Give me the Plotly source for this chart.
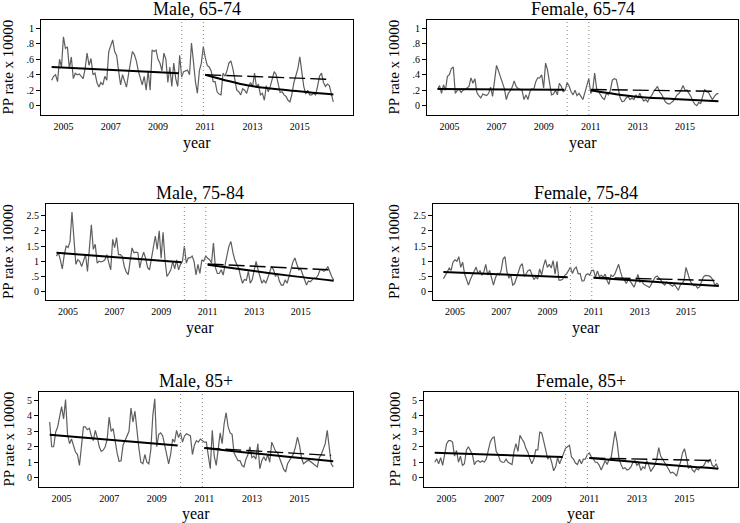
import plotly.graph_objects as go

W, H = 740, 523
FONT = "Liberation Serif"

# ---------------- data ----------------
start_year = 2004.5
n_months = 144
months = [start_year + i / 12 for i in range(n_months)]
breaks = [2010.0, 2010.92]
xtick_vals = [2005, 2007, 2009, 2011, 2013, 2015]
xtick_text = ["2005", "2007", "2009", "2011", "2013", "2015"]

titles = ["Male, 65-74", "Female, 65-74", "Male, 75-84",
          "Female, 75-84", "Male, 85+", "Female, 85+"]

male_65_74 = [
    0.33, 0.38, 0.40, 0.31, 0.60, 0.50, 0.89, 0.74, 0.76, 0.48, 0.63, 0.35,
    0.42, 0.40, 0.41, 0.38, 0.35, 0.48, 0.68, 0.52, 0.61, 0.40, 0.42, 0.30,
    0.24, 0.30, 0.27, 0.38, 0.33, 0.70, 0.78, 0.85, 0.70, 0.65, 0.45, 0.27,
    0.40, 0.32, 0.24, 0.40, 0.55, 0.70, 0.66, 0.58, 0.45, 0.35, 0.27, 0.38,
    0.20, 0.45, 0.20, 0.72, 0.70, 0.72, 0.60, 0.55, 0.45, 0.68, 0.60, 0.30,
    0.50, 0.25, 0.55, 0.35, 0.25, 0.65, 0.37, 0.44, 0.45, 0.46, 0.40, 0.81,
    0.57, 0.31, 0.16, 0.45, 0.55, 0.76, 0.62, 0.52, 0.50, 0.45, 0.31, 0.31,
    0.18, 0.15, 0.14, 0.42, 0.38, 0.45, 0.55, 0.58, 0.48, 0.35, 0.20, 0.18,
    0.14, 0.22, 0.20, 0.16, 0.25, 0.30, 0.24, 0.42, 0.24, 0.28, 0.14, 0.16,
    0.07, 0.26, 0.18, 0.25, 0.33, 0.44, 0.40, 0.28, 0.17, 0.18, 0.14, 0.12,
    0.07, 0.05, 0.15, 0.30, 0.40, 0.48, 0.63, 0.45, 0.25, 0.15, 0.20, 0.14,
    0.14, 0.16, 0.14, 0.25, 0.38, 0.42, 0.30, 0.25, 0.28, 0.26, 0.15, 0.05]

female_65_74 = [
    0.21, 0.26, 0.16, 0.27, 0.20, 0.38, 0.40, 0.48, 0.50, 0.16, 0.20, 0.21,
    0.17, 0.20, 0.21, 0.23, 0.25, 0.36, 0.29, 0.35, 0.17, 0.13, 0.10, 0.15,
    0.14, 0.13, 0.16, 0.24, 0.12, 0.31, 0.52, 0.45, 0.38, 0.30, 0.22, 0.08,
    0.16, 0.19, 0.24, 0.32, 0.25, 0.22, 0.21, 0.20, 0.08, 0.14, 0.08, 0.18,
    0.22, 0.21, 0.31, 0.36, 0.36, 0.40, 0.23, 0.55, 0.46, 0.30, 0.14, 0.15,
    0.20, 0.14, 0.29, 0.25, 0.18, 0.20, 0.30, 0.25, 0.18, 0.14, 0.20, 0.13,
    0.16, 0.12, 0.08, 0.17, 0.25, 0.35, 0.16, 0.20, 0.42, 0.22, 0.18, 0.14,
    0.10, 0.08, 0.16, 0.14, 0.20, 0.33, 0.35, 0.34, 0.20, 0.10, 0.05, 0.06,
    0.10, 0.12, 0.08, 0.10, 0.08, 0.14, 0.10, 0.16, 0.10, 0.06, 0.08, 0.05,
    0.10, 0.13, 0.18, 0.21, 0.25, 0.18, 0.15, 0.10, 0.05, 0.03, 0.02, 0.04,
    0.06, 0.10, 0.14, 0.16, 0.20, 0.26, 0.20, 0.20, 0.16, 0.12, 0.06, 0.02,
    0.00, 0.04, 0.03, 0.12, 0.21, 0.18, 0.17, 0.12, 0.08, 0.12, 0.15, 0.16]

male_75_84 = [
    1.17, 1.28, 1.05, 0.75, 1.20, 1.50, 1.45, 1.65, 2.62, 1.60, 0.90, 1.05,
    1.00, 0.83, 1.05, 1.22, 0.67, 1.60, 2.20, 1.39, 1.56, 0.94, 1.00, 0.98,
    1.00, 1.05, 1.22, 0.95, 0.72, 1.72, 1.45, 1.78, 1.22, 1.22, 1.15, 0.83,
    0.65, 0.56, 1.00, 1.44, 1.28, 1.30, 1.28, 0.78, 1.10, 1.30, 1.10, 0.80,
    0.72, 1.05, 1.39, 1.83, 1.39, 2.00, 1.10, 1.95, 1.05, 0.50, 0.60, 0.72,
    1.00, 0.75, 1.05, 0.72, 0.90, 1.00, 1.50, 0.94, 1.11, 1.11, 1.17, 1.00,
    0.55, 0.90, 0.60, 1.05, 1.00, 1.17, 1.10, 1.05, 0.95, 1.60, 0.80, 0.60,
    0.60, 0.72, 0.55, 0.94, 1.20, 1.50, 1.65, 1.30, 1.05, 0.90, 0.78, 0.50,
    0.28, 0.40, 0.38, 0.67, 0.28, 0.40, 0.75, 1.00, 0.72, 0.50, 0.28, 0.38,
    0.28, 0.45, 0.67, 0.83, 0.72, 0.50, 0.60, 0.35, 0.22, 0.22, 0.39, 0.28,
    0.50, 0.75, 0.98, 1.11, 0.94, 0.72, 0.75, 0.55, 0.40, 0.22, 0.35, 0.33,
    0.40, 0.45, 0.45, 0.55, 0.72, 0.72, 0.67, 0.72, 0.83, 0.65, 0.50, 0.39]

female_75_84 = [
    0.43, 0.52, 0.65, 0.78, 0.70, 0.97, 1.05, 1.00, 1.15, 0.80, 0.97, 0.59,
    0.43, 0.22, 0.40, 0.55, 0.65, 0.81, 0.59, 0.70, 0.54, 0.65, 0.90, 0.55,
    0.70, 0.40, 0.22, 0.45, 0.60, 0.55, 0.70, 1.08, 1.15, 0.65, 0.45, 0.55,
    0.22, 0.27, 0.45, 0.65, 0.85, 0.92, 0.50, 0.59, 0.70, 0.72, 0.55, 0.40,
    0.48, 0.42, 0.75, 0.55, 0.85, 1.05, 0.80, 0.90, 0.78, 1.02, 0.58, 1.00,
    0.38, 0.38, 0.42, 0.54, 0.59, 0.70, 0.81, 0.60, 0.75, 0.81, 0.59, 0.60,
    0.35, 0.36, 0.55, 0.59, 0.54, 0.70, 0.70, 0.48, 0.68, 0.50, 0.54, 0.48,
    0.58, 0.37, 0.24, 0.55, 0.50, 0.58, 0.75, 0.90, 0.65, 0.45, 0.38, 0.27,
    0.40, 0.35, 0.25, 0.15, 0.32, 0.57, 0.32, 0.35, 0.25, 0.20, 0.18, 0.14,
    0.27, 0.38, 0.48, 0.52, 0.45, 0.38, 0.27, 0.22, 0.32, 0.27, 0.20, 0.18,
    0.24, 0.12, 0.05, 0.22, 0.27, 0.38, 0.80, 0.59, 0.38, 0.27, 0.20, 0.22,
    0.12, 0.16, 0.32, 0.48, 0.54, 0.54, 0.52, 0.48, 0.38, 0.22, 0.28, 0.22]

male_85 = [
    3.60, 2.00, 2.00, 2.95, 3.28, 3.90, 4.60, 3.80, 5.05, 2.80, 2.20, 2.50,
    2.10, 1.66, 1.50, 0.80, 2.00, 3.28, 3.28, 3.10, 3.20, 2.70, 2.40, 3.06,
    2.60, 2.00, 1.70, 1.78, 2.00, 2.50, 3.92, 3.00, 3.17, 2.30, 1.60, 1.05,
    1.10, 2.10, 2.40, 2.80, 3.00, 4.50, 3.60, 4.30, 3.00, 1.90, 1.00, 0.90,
    1.50, 1.00, 0.90, 1.80, 4.00, 5.10, 2.00, 2.80, 2.90, 2.70, 2.10, 1.50,
    0.90, 1.50, 2.50, 2.30, 3.06, 2.60, 2.90, 2.30, 2.70, 2.84, 2.74, 2.70,
    1.50, 2.10, 2.40, 2.30, 2.50, 2.40, 2.30, 2.30, 1.44, 0.58, 3.06, 1.40,
    0.80, 1.90, 2.90, 2.20, 3.50, 4.20, 3.30, 2.90, 2.80, 1.60, 1.30, 1.10,
    1.10, 0.80, 0.70, 1.20, 1.50, 2.00, 1.30, 1.40, 1.20, 2.20, 0.58, 1.10,
    1.35, 1.10, 1.50, 1.00, 2.30, 2.00, 1.70, 1.60, 1.30, 0.90, 0.55, 0.37,
    0.90, 1.10, 1.35, 1.55, 2.00, 2.63, 2.10, 1.30, 0.90, 1.00, 1.10, 1.10,
    1.00, 0.90, 0.80, 0.70, 1.30, 1.50, 1.85, 2.20, 3.06, 1.80, 0.90, 0.70]

female_85 = [
    1.00, 1.23, 0.90, 1.30, 0.80, 1.50, 2.20, 2.40, 2.40, 2.30, 1.40, 1.77,
    1.00, 1.40, 0.80, 0.90, 1.80, 2.00, 1.70, 1.50, 0.85, 1.05, 1.10, 1.00,
    1.10, 1.00, 1.20, 1.70, 2.30, 2.55, 2.63, 1.70, 1.50, 1.10, 1.00, 1.00,
    1.20, 1.00, 0.90, 0.85, 1.70, 2.20, 1.70, 2.74, 2.50, 2.30, 1.90, 1.65,
    1.23, 0.90, 1.20, 1.80, 1.80, 2.95, 2.90, 2.40, 1.80, 1.20, 1.40, 1.00,
    0.45, 0.70, 1.30, 0.90, 1.23, 1.45, 1.90, 2.00, 2.10, 1.34, 1.20, 0.95,
    0.85, 1.20, 0.90, 1.20, 1.20, 1.50, 1.60, 1.35, 1.23, 1.00, 1.00, 0.80,
    0.50, 0.80, 1.10, 0.85, 1.20, 1.30, 2.30, 3.00, 2.30, 1.20, 0.85, 0.58,
    0.65, 0.50, 0.55, 0.70, 1.00, 1.10, 0.80, 0.95, 0.47, 0.70, 0.60, 1.10,
    0.80, 0.40, 0.60, 0.80, 1.20, 1.95, 1.40, 1.20, 1.00, 0.80, 0.55, 0.30,
    0.35, 0.26, 0.10, 0.60, 1.00, 1.60, 1.88, 1.30, 0.60, 0.80, 0.50, 0.37,
    0.60, 0.50, 0.70, 0.70, 0.85, 1.10, 1.00, 1.20, 0.80, 0.70, 0.90, 0.58]

series = [male_65_74, female_65_74, male_75_84, female_75_84, male_85, female_85]

# fitted trend before the break (2004m7 .. end of 2009)
trend1_x = [2004.5, 2009.88]
trend1_y = [[0.50, 0.42], [0.215, 0.205], [1.28, 0.97],
            [0.65, 0.48], [2.78, 2.09], [1.62, 1.34]]
# fitted trend after the break
trend2_x = [2011.0, 2012.83, 2014.5, 2016.42]
trend2_y = [[0.40, 0.26, 0.20, 0.145], [0.20, 0.12, 0.088, 0.056],
            [0.89, 0.70, 0.53, 0.36], [0.46, 0.37, 0.28, 0.19],
            [1.92, 1.62, 1.35, 1.06], [1.27, 1.03, 0.80, 0.58]]
# counterfactual (dashed) after the break
cf_x = [2011.0, 2016.33]
cf_y = [[0.40, 0.34], [0.21, 0.185], [0.91, 0.72],
        [0.47, 0.37], [1.92, 1.44], [1.27, 1.11]]

ytick_rows = [
    ([0, 0.2, 0.4, 0.6, 0.8, 1], ["0", ".2", ".4", ".6", ".8", "1"]),
    ([0, 0.5, 1, 1.5, 2, 2.5], ["0", ".5", "1", "1.5", "2", "2.5"]),
    ([0, 1, 2, 3, 4, 5], ["0", "1", "2", "3", "4", "5"]),
]
yranges = [[-0.12, 1.107], [-0.27, 2.88], [-0.6, 5.54]]
xrange_ = [2004.05, 2017.25]

# ---------------- layout geometry (pixels) ----------------
boxes = [
    (41, 353, 20, 115), (427, 738, 20, 115),
    (46, 353, 204, 300), (433, 738, 204, 300),
    (39, 353, 392, 487), (424, 738, 392, 487),
]
ylabel_x = [8, 394]
year_y = [143, 328, 514]

fig = go.Figure()
layout = dict(width=W, height=H, margin=dict(l=0, r=0, t=0, b=0),
              paper_bgcolor="white", plot_bgcolor="white",
              showlegend=False, font=dict(family=FONT, color="black"))
annotations = []
shapes = []

for k in range(6):
    row, col = k // 2, k % 2
    x0, x1, y0, y1 = boxes[k]
    sfx = "" if k == 0 else str(k + 1)
    xa, ya = "x" + sfx, "y" + sfx

    fig.add_trace(go.Scatter(x=months, y=series[k], mode="lines",
                             line=dict(color="#5e5e5e", width=1.2),
                             xaxis=xa, yaxis=ya, hoverinfo="skip"))
    fig.add_trace(go.Scatter(x=trend1_x, y=trend1_y[k], mode="lines",
                             line=dict(color="black", width=2),
                             xaxis=xa, yaxis=ya, hoverinfo="skip"))
    fig.add_trace(go.Scatter(x=cf_x, y=cf_y[k], mode="lines",
                             line=dict(color="black", width=1.4, dash="16px,5px"),
                             xaxis=xa, yaxis=ya, hoverinfo="skip"))
    fig.add_trace(go.Scatter(x=trend2_x, y=trend2_y[k], mode="lines",
                             line=dict(color="black", width=2, shape="spline"),
                             xaxis=xa, yaxis=ya, hoverinfo="skip"))

    for b in breaks:
        shapes.append(dict(type="line", xref=xa, yref=ya + " domain",
                           x0=b, x1=b, y0=0, y1=1,
                           line=dict(color="#9a9a9a", width=1.2, dash="1px,3px")))

    tv, tt = ytick_rows[row]
    layout["xaxis" + sfx] = dict(
        domain=[x0 / W, x1 / W], anchor=ya, range=xrange_,
        tickvals=xtick_vals, ticktext=xtick_text, ticks="",
        tickfont=dict(family=FONT, size=10, color="black"),
        showline=True, mirror=True, linecolor="black", linewidth=1,
        showgrid=False, zeroline=False, ticklabelstandoff=2)
    layout["yaxis" + sfx] = dict(
        domain=[1 - y1 / H, 1 - y0 / H], anchor=xa, range=yranges[row],
        tickvals=tv, ticktext=tt, ticks="outside", ticklen=4,
        tickcolor="black", tickwidth=1,
        tickfont=dict(family=FONT, size=10, color="black"),
        showline=True, mirror=True, linecolor="black", linewidth=1,
        showgrid=False, zeroline=False)

    cx = (x0 + x1) / 2
    annotations.append(dict(text=titles[k], x=cx / W, y=1 - (y0 - 11) / H,
                            xref="paper", yref="paper", showarrow=False,
                            xanchor="center", yanchor="middle",
                            font=dict(family=FONT, size=18, color="black")))
    annotations.append(dict(text="year", x=cx / W, y=1 - year_y[row] / H,
                            xref="paper", yref="paper", showarrow=False,
                            xanchor="center", yanchor="middle",
                            font=dict(family=FONT, size=16, color="black")))
    annotations.append(dict(text="PP rate x 10000", x=ylabel_x[col] / W,
                            y=1 - ((y0 + y1) / 2) / H, textangle=-90,
                            xref="paper", yref="paper", showarrow=False,
                            xanchor="center", yanchor="middle",
                            font=dict(family=FONT, size=15, color="black")))

layout["annotations"] = annotations
layout["shapes"] = shapes
fig.update_layout(**layout)
fig.write_html("out.html",
               config={"displayModeBar": False, "staticPlot": True},
               post_script="document.body.style.margin='0';"
                           "document.body.style.overflow='hidden';")
